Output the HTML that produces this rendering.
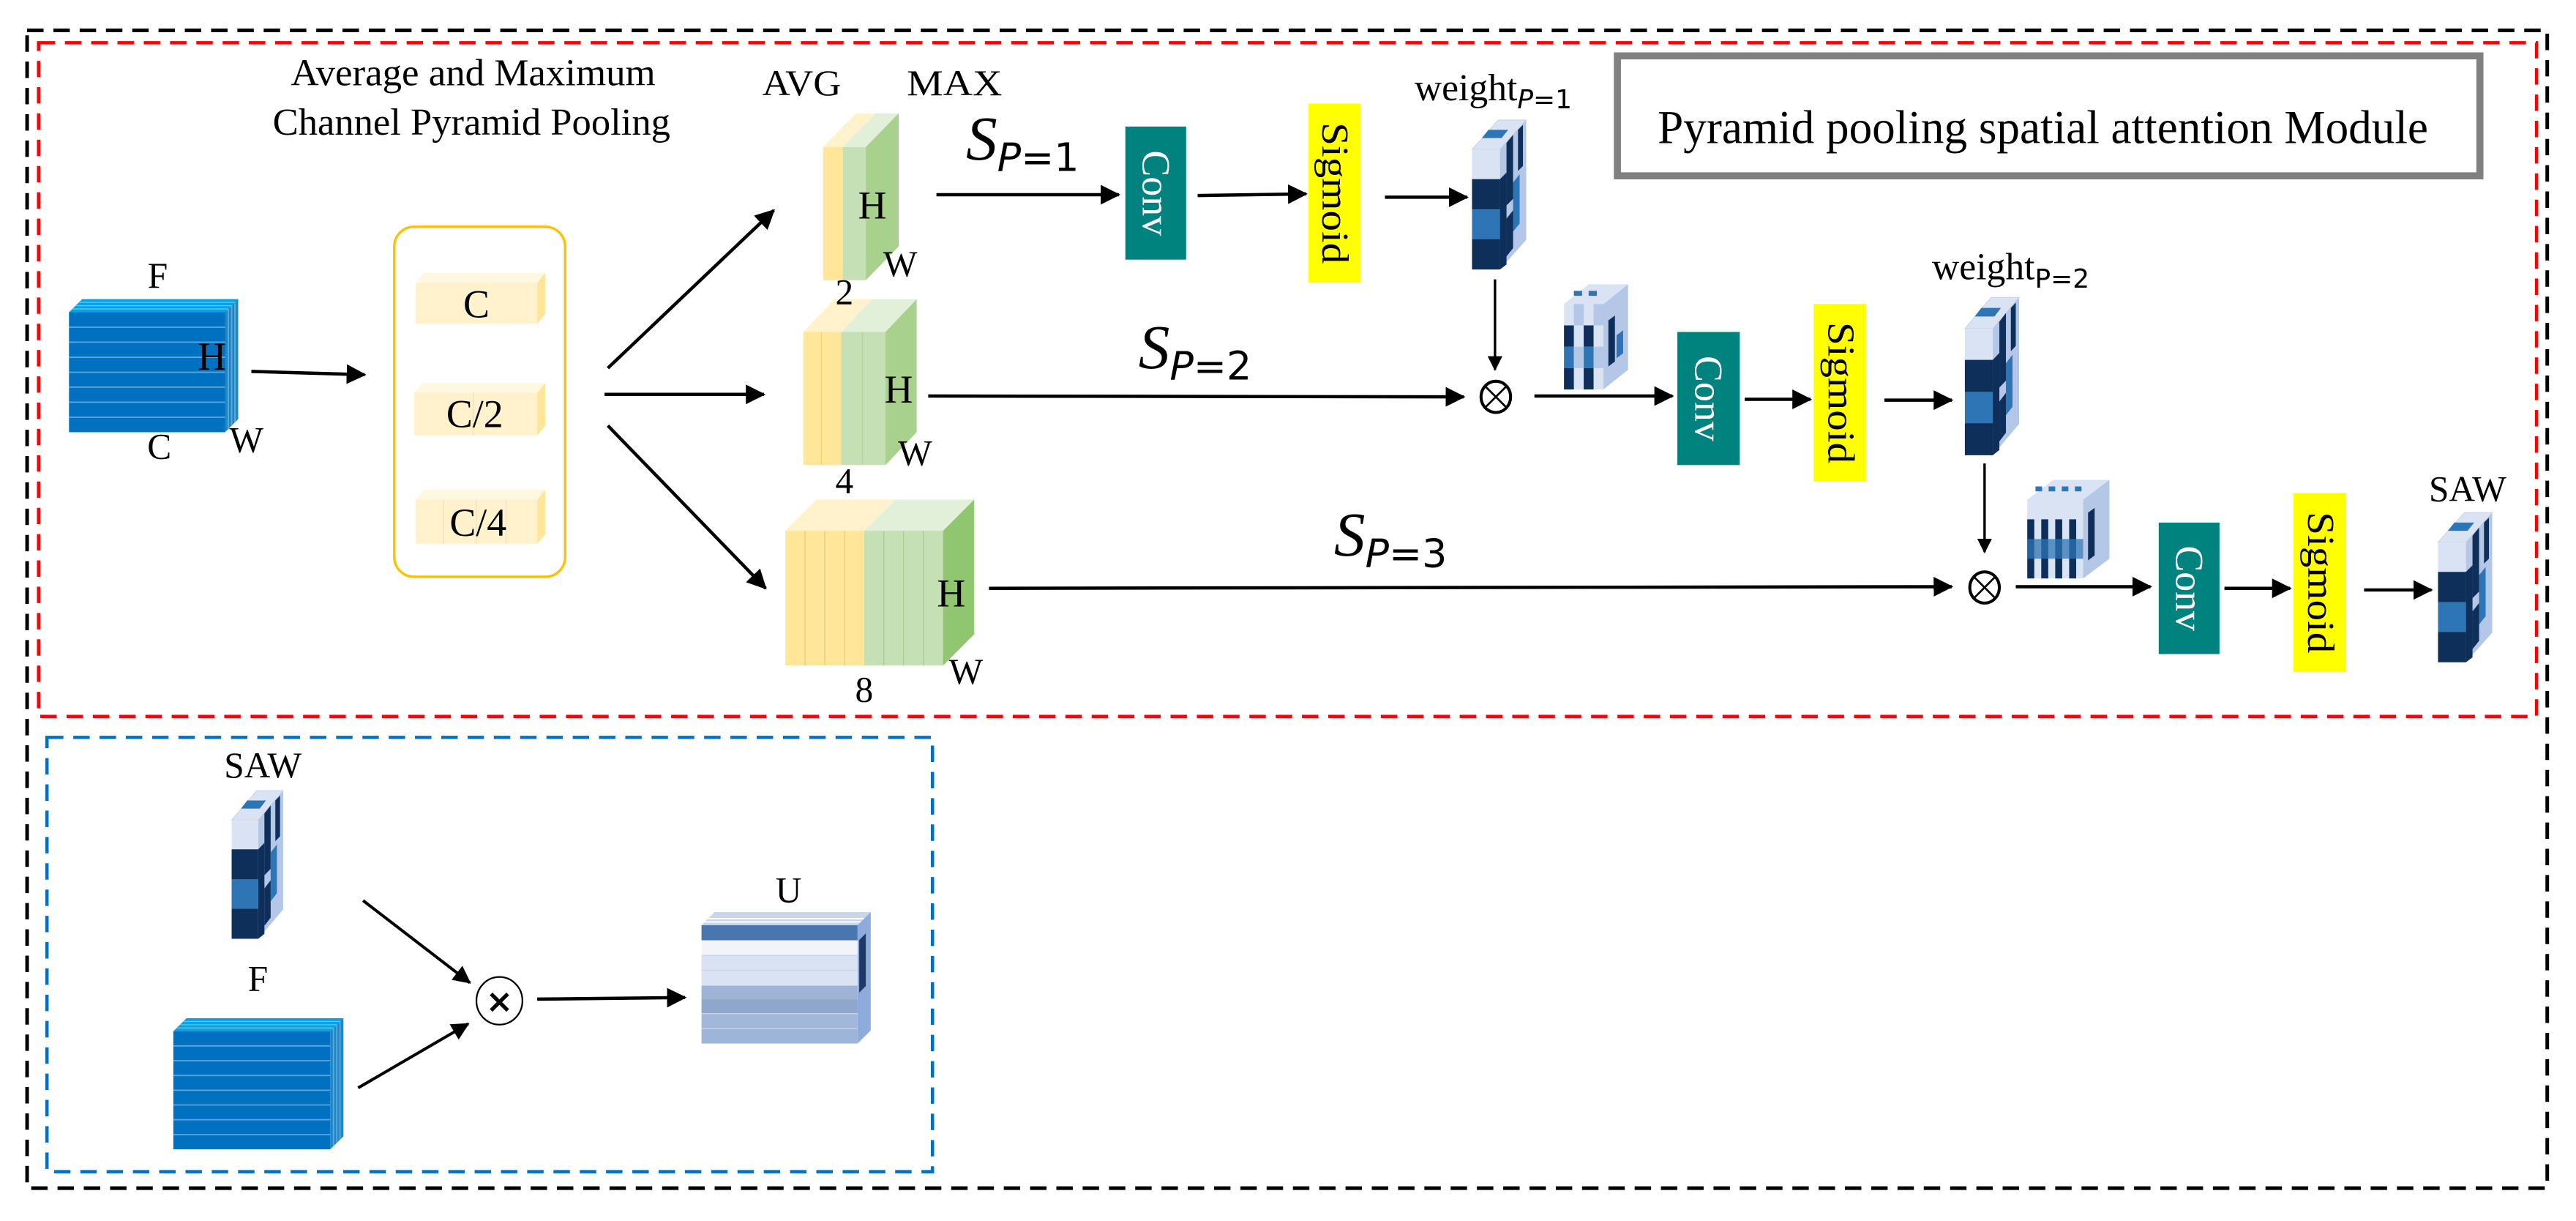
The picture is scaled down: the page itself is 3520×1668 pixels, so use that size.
<!DOCTYPE html>
<html><head><meta charset="utf-8"><style>
html,body{margin:0;padding:0;background:#fff;}
svg{display:block;}
text{font-family:"Liberation Serif",serif;fill:#000;}
</style></head><body>
<svg width="3520" height="1668" viewBox="0 0 1568 743" preserveAspectRatio="none" xmlns="http://www.w3.org/2000/svg">
<defs>
<marker id="ah" markerWidth="6" markerHeight="6" refX="5.5" refY="3" orient="auto" markerUnits="strokeWidth">
<path d="M0,0 L6,3 L0,6 z" fill="#000"/>
</marker>
<g id="wcube">
<polygon points="0,0 16,-18 33,-18 17,0" fill="#DAE3F3" stroke="#C9D5EA" stroke-width="0.5"/>
<polygon points="6,-7 10,-12 22,-12 18,-7" fill="#2E75B6"/>
<polygon points="17,0 33,-18 33,55 17,73" fill="#B4C7E7"/>
<polygon points="21,-4 25,-9 25,30 21,34" fill="#0E2F5A"/>
<polygon points="28,-12 31,-15 31,10 28,13" fill="#0E2F5A"/>
<polygon points="25,20 29,15 29,45 25,50" fill="#2E75B6"/>
<polygon points="21,42 25,37 25,60 21,65" fill="#0E2F5A"/>
<polygon points="17,18 21,14 21,70 17,73" fill="#0E2F5A"/>
<rect x="0" y="0" width="17" height="18" fill="#DAE3F3"/>
<rect x="0" y="18" width="17" height="18.5" fill="#0E2F5A"/>
<rect x="0" y="36.5" width="17" height="18" fill="#2E75B6"/>
<rect x="0" y="54.5" width="17" height="18.5" fill="#0E2F5A"/>
</g>
<g id="fcube">
<polygon points="0,0 8,-8 103,-8 95,0" fill="#00A2E8"/>
<line x1="2" y1="-2" x2="97" y2="-2" stroke="#66C8F0" stroke-width="0.6"/>
<line x1="4" y1="-4" x2="99" y2="-4" stroke="#66C8F0" stroke-width="0.6"/>
<line x1="6" y1="-6" x2="101" y2="-6" stroke="#66C8F0" stroke-width="0.6"/>
<polygon points="95,0 103,-8 103,65 95,73" fill="#1F86C4"/>
<rect x="0" y="0" width="95" height="73" fill="#0070C0"/>
<g stroke="#5FA8DC" stroke-width="0.8">
<line x1="0" y1="9.1" x2="95" y2="9.1"/><line x1="0" y1="18.2" x2="95" y2="18.2"/>
<line x1="0" y1="27.4" x2="95" y2="27.4"/><line x1="0" y1="36.5" x2="95" y2="36.5"/>
<line x1="0" y1="45.6" x2="95" y2="45.6"/><line x1="0" y1="54.7" x2="95" y2="54.7"/>
<line x1="0" y1="63.9" x2="95" y2="63.9"/>
<line x1="97" y1="-2" x2="97" y2="71"/><line x1="99" y1="-4" x2="99" y2="69"/><line x1="101" y1="-6" x2="101" y2="67"/>
</g>
</g>
</defs>

<rect x="16.5" y="18.5" width="1534" height="704.5" fill="none" stroke="#000" stroke-width="2.2" stroke-dasharray="10,6"/>
<rect x="23.5" y="26" width="1520.5" height="410" fill="none" stroke="#FF0000" stroke-width="2" stroke-dasharray="10,6"/>
<rect x="28.6" y="448.7" width="539" height="264.3" fill="none" stroke="#0070C0" stroke-width="2" stroke-dasharray="10,6"/>

<text x="288" y="52" font-size="23" text-anchor="middle" textLength="222" lengthAdjust="spacingAndGlyphs">Average and Maximum</text>
<text x="287" y="82" font-size="23" text-anchor="middle" textLength="242" lengthAdjust="spacingAndGlyphs">Channel Pyramid Pooling</text>
<text x="464" y="58" font-size="22" textLength="48" lengthAdjust="spacingAndGlyphs">AVG</text>
<text x="552" y="58" font-size="22" textLength="58" lengthAdjust="spacingAndGlyphs">MAX</text>

<rect x="984.5" y="34" width="525" height="73" fill="#fff" stroke="#808080" stroke-width="4.3"/>
<text x="1009" y="87" font-size="29" textLength="469" lengthAdjust="spacingAndGlyphs">Pyramid pooling spatial attention Module</text>

<use href="#fcube" transform="translate(42,190)"/>
<text x="96" y="175" font-size="22" text-anchor="middle">F</text>
<text x="129" y="225" font-size="24" text-anchor="middle">H</text>
<text x="97" y="279" font-size="22" text-anchor="middle">C</text>
<text x="150" y="275" font-size="22" text-anchor="middle">W</text>

<line x1="153" y1="226" x2="222" y2="228" stroke="#000" stroke-width="2" marker-end="url(#ah)"/>

<rect x="240" y="138" width="104" height="213" rx="12" fill="#fff" stroke="#FFC000" stroke-width="1.5"/>
<g>
<polygon points="253,172 258,166 332,166 327,172" fill="#FFF8E1"/>
<polygon points="327,172 332,166 332,191 327,197" fill="#FFE699"/>
<rect x="253" y="172" width="74" height="25" fill="#FFF2CC"/>
<text x="290" y="193" font-size="24" text-anchor="middle">C</text>
<polygon points="252,239 257,233 332,233 327,239" fill="#FFF8E1"/>
<polygon points="327,239 332,233 332,259 327,265" fill="#FFE699"/>
<rect x="252" y="239" width="75" height="26" fill="#FFF2CC"/>
<line x1="288" y1="239" x2="288" y2="265" stroke="#F2E2B5" stroke-width="0.6"/>
<text x="289" y="260" font-size="24" text-anchor="middle">C/2</text>
<polygon points="253,304 258,298 332,298 327,304" fill="#FFF8E1"/>
<polygon points="327,304 332,298 332,325 327,331" fill="#FFE699"/>
<rect x="253" y="304" width="74" height="27" fill="#FFF2CC"/>
<line x1="270" y1="304" x2="270" y2="331" stroke="#F2E2B5" stroke-width="0.6"/>
<line x1="290" y1="304" x2="290" y2="331" stroke="#F2E2B5" stroke-width="0.6"/>
<line x1="308" y1="304" x2="308" y2="331" stroke="#F2E2B5" stroke-width="0.6"/>
<text x="291" y="326" font-size="24" text-anchor="middle">C/4</text>
</g>

<line x1="370" y1="224" x2="471" y2="128" stroke="#000" stroke-width="2" marker-end="url(#ah)"/>
<line x1="368" y1="240" x2="465" y2="240" stroke="#000" stroke-width="2" marker-end="url(#ah)"/>
<line x1="370" y1="259" x2="466" y2="358" stroke="#000" stroke-width="2" marker-end="url(#ah)"/>

<!-- pyramid block 1 -->
<polygon points="501,89.5 521,69 533,69 513,89.5" fill="#FFF2CC"/>
<polygon points="513,89.5 533,69 547,69 527,89.5" fill="#E2F0D9"/>
<polygon points="527,89.5 547,69 547,150 527,170.5" fill="#A9D18E"/>
<rect x="501" y="89.5" width="12" height="81" fill="#FFE699"/>
<rect x="513" y="89.5" width="14" height="81" fill="#C5E0B4"/>
<text x="531" y="133" font-size="24" text-anchor="middle">H</text>
<text x="548" y="168" font-size="22" text-anchor="middle">W</text>

<!-- pyramid block 2 -->
<polygon points="489,202 508,182 531,182 512,202" fill="#FFF2CC"/>
<polygon points="512,202 531,182 558,182 539,202" fill="#E2F0D9"/>
<polygon points="539,202 558,182 558,263 539,283" fill="#A9D18E"/>
<rect x="489" y="202" width="23" height="81" fill="#FFE699"/>
<rect x="512" y="202" width="27" height="81" fill="#C5E0B4"/>
<line x1="500" y1="202" x2="500" y2="283" stroke="#F0D27A" stroke-width="0.6"/>
<line x1="525" y1="202" x2="525" y2="283" stroke="#B3D49F" stroke-width="0.6"/>
<text x="547" y="245" font-size="24" text-anchor="middle">H</text>
<text x="557" y="283" font-size="22" text-anchor="middle">W</text>
<text x="514" y="300" font-size="22" text-anchor="middle">4</text>
<text x="514" y="185" font-size="22" text-anchor="middle">2</text>

<!-- pyramid block 3 -->
<polygon points="478,323 497,304 545,304 526,323" fill="#FFF2CC"/>
<polygon points="526,323 545,304 593,304 574,323" fill="#E2F0D9"/>
<polygon points="574,323 593,304 593,386 574,405" fill="#8FC66F"/>
<rect x="478" y="323" width="48" height="82" fill="#FFE699"/>
<rect x="526" y="323" width="48" height="82" fill="#C5E0B4"/>
<g stroke="#EACB78" stroke-width="0.6"><line x1="490" y1="323" x2="490" y2="405"/><line x1="502" y1="323" x2="502" y2="405"/><line x1="514" y1="323" x2="514" y2="405"/></g>
<g stroke="#A8CC92" stroke-width="0.6"><line x1="538" y1="323" x2="538" y2="405"/><line x1="550" y1="323" x2="550" y2="405"/><line x1="562" y1="323" x2="562" y2="405"/></g>
<text x="579" y="369" font-size="24" text-anchor="middle">H</text>
<text x="588" y="416" font-size="22" text-anchor="middle">W</text>
<text x="526" y="427" font-size="22" text-anchor="middle">8</text>

<text x="588" y="97" font-size="38" font-style="italic">S<tspan font-size="24" dy="7" font-family="DejaVu Sans, sans-serif">P</tspan><tspan font-size="24" font-style="normal" font-family="DejaVu Sans, sans-serif">=1</tspan></text>
<text x="693" y="224" font-size="38" font-style="italic">S<tspan font-size="24" dy="7" font-family="DejaVu Sans, sans-serif">P</tspan><tspan font-size="24" font-style="normal" font-family="DejaVu Sans, sans-serif">=2</tspan></text>
<text x="812" y="338" font-size="38" font-style="italic">S<tspan font-size="24" dy="7" font-family="DejaVu Sans, sans-serif">P</tspan><tspan font-size="24" font-style="normal" font-family="DejaVu Sans, sans-serif">=3</tspan></text>

<!-- row 1 -->
<line x1="570" y1="118.5" x2="681" y2="118.5" stroke="#000" stroke-width="2" marker-end="url(#ah)"/>
<rect x="685" y="77" width="37" height="81" fill="#00827F"/>
<text transform="translate(703.5,117.5) rotate(90)" font-size="24" text-anchor="middle" dy="8" style="fill:#fff">Conv</text>
<line x1="729" y1="119" x2="795" y2="118" stroke="#000" stroke-width="2" marker-end="url(#ah)"/>
<rect x="796.5" y="63" width="31.5" height="109" fill="#FFFF00"/>
<text transform="translate(812,117.5) rotate(90)" font-size="23" text-anchor="middle" dy="7" textLength="86" lengthAdjust="spacingAndGlyphs">Sigmoid</text>
<line x1="843" y1="120" x2="893" y2="120" stroke="#000" stroke-width="2" marker-end="url(#ah)"/>
<use href="#wcube" transform="translate(896,91)"/>
<text x="861" y="61" font-size="23">weight<tspan font-size="16" dy="5" font-style="italic" font-family="DejaVu Sans, sans-serif">P</tspan><tspan font-size="16" font-family="DejaVu Sans, sans-serif">=1</tspan></text>
<line x1="910" y1="170" x2="910" y2="225" stroke="#000" stroke-width="1.5" marker-end="url(#ah)"/>

<!-- row 2 -->
<line x1="565" y1="241" x2="891" y2="241.5" stroke="#000" stroke-width="2" marker-end="url(#ah)"/>
<ellipse cx="910.5" cy="241.5" rx="9" ry="9.5" fill="#fff" stroke="#000" stroke-width="1.8"/>
<line x1="904.5" y1="235.5" x2="916.5" y2="247.5" stroke="#000" stroke-width="1.2"/>
<line x1="916.5" y1="235.5" x2="904.5" y2="247.5" stroke="#000" stroke-width="1.2"/>
<g>
<polygon points="952,185 967,173 991,173 976,185" fill="#DAE3F3"/>
<rect x="958" y="177" width="5" height="3" fill="#2E75B6"/><rect x="967" y="177" width="5" height="3" fill="#2E75B6"/>
<polygon points="976,185 991,173 991,225 976,237" fill="#B4C7E7"/>
<polygon points="979,195 983,192 983,220 979,223" fill="#0E2F5A"/>
<polygon points="984,204 988,201 988,215 984,218" fill="#2E75B6"/>
<rect x="952" y="185" width="24" height="52" fill="#DAE3F3"/>
<rect x="958" y="185" width="6" height="13" fill="#B4C7E7"/><rect x="970" y="185" width="6" height="13" fill="#B4C7E7"/>
<rect x="952" y="198" width="6" height="13" fill="#0E2F5A"/><rect x="964" y="198" width="6" height="13" fill="#0E2F5A"/>
<rect x="952" y="211" width="6" height="13" fill="#2E75B6"/><rect x="958" y="211" width="6" height="13" fill="#B4C7E7"/><rect x="964" y="211" width="6" height="13" fill="#2E75B6"/><rect x="970" y="211" width="6" height="13" fill="#B4C7E7"/>
<rect x="952" y="224" width="6" height="13" fill="#0E2F5A"/><rect x="964" y="224" width="6" height="13" fill="#0E2F5A"/>
</g>
<line x1="934" y1="241" x2="1018" y2="241" stroke="#000" stroke-width="2" marker-end="url(#ah)"/>
<rect x="1021" y="202" width="38" height="81" fill="#00827F"/>
<text transform="translate(1040,242.5) rotate(90)" font-size="24" text-anchor="middle" dy="8" style="fill:#fff">Conv</text>
<line x1="1062" y1="243" x2="1102" y2="243" stroke="#000" stroke-width="2" marker-end="url(#ah)"/>
<rect x="1104" y="185" width="32" height="108" fill="#FFFF00"/>
<text transform="translate(1120,239) rotate(90)" font-size="23" text-anchor="middle" dy="7" textLength="86" lengthAdjust="spacingAndGlyphs">Sigmoid</text>
<line x1="1147" y1="243.5" x2="1188" y2="243.5" stroke="#000" stroke-width="2" marker-end="url(#ah)"/>
<use href="#wcube" transform="translate(1196,200) scale(1,1.055)"/>
<text x="1176" y="170" font-size="23">weight<tspan font-size="16" dy="5" font-family="DejaVu Sans, sans-serif">P=2</tspan></text>
<line x1="1208" y1="282" x2="1208" y2="336" stroke="#000" stroke-width="1.5" marker-end="url(#ah)"/>

<!-- row 3 -->
<line x1="602" y1="358" x2="1188" y2="357" stroke="#000" stroke-width="2" marker-end="url(#ah)"/>
<ellipse cx="1208" cy="357.5" rx="9" ry="9.5" fill="#fff" stroke="#000" stroke-width="1.8"/>
<line x1="1202" y1="351.5" x2="1214" y2="363.5" stroke="#000" stroke-width="1.2"/>
<line x1="1214" y1="351.5" x2="1202" y2="363.5" stroke="#000" stroke-width="1.2"/>
<g>
<polygon points="1234,304 1250,292 1284,292 1268,304" fill="#DAE3F3"/>
<rect x="1239" y="296" width="4" height="3" fill="#2E75B6"/><rect x="1247" y="296" width="4" height="3" fill="#2E75B6"/><rect x="1255" y="296" width="4" height="3" fill="#2E75B6"/><rect x="1263" y="296" width="4" height="3" fill="#2E75B6"/>
<polygon points="1268,304 1284,292 1284,340 1268,352" fill="#B4C7E7"/>
<polygon points="1271,312 1275,309 1275,338 1271,341" fill="#0E2F5A"/>
<rect x="1234" y="304" width="34" height="48" fill="#DAE3F3"/>
<rect x="1234" y="316" width="4.25" height="36" fill="#0E2F5A"/><rect x="1242.5" y="316" width="4.25" height="36" fill="#0E2F5A"/><rect x="1251" y="316" width="4.25" height="36" fill="#0E2F5A"/><rect x="1259.5" y="316" width="4.25" height="36" fill="#0E2F5A"/>
<rect x="1234" y="328" width="34" height="12" fill="#2E75B6" opacity="0.75"/>
</g>
<line x1="1227" y1="357" x2="1309" y2="357" stroke="#000" stroke-width="2" marker-end="url(#ah)"/>
<rect x="1314" y="318" width="37" height="80" fill="#00827F"/>
<text transform="translate(1332.5,358) rotate(90)" font-size="24" text-anchor="middle" dy="8" style="fill:#fff">Conv</text>
<line x1="1354" y1="358" x2="1394" y2="358" stroke="#000" stroke-width="2" marker-end="url(#ah)"/>
<rect x="1396" y="300" width="32" height="109" fill="#FFFF00"/>
<text transform="translate(1412,354.5) rotate(90)" font-size="23" text-anchor="middle" dy="7" textLength="86" lengthAdjust="spacingAndGlyphs">Sigmoid</text>
<line x1="1439" y1="359" x2="1480" y2="359" stroke="#000" stroke-width="2" marker-end="url(#ah)"/>
<use href="#wcube" transform="translate(1484,330)"/>
<text x="1502" y="305" font-size="22" text-anchor="middle">SAW</text>

<!-- bottom -->
<text x="160" y="473" font-size="22" text-anchor="middle">SAW</text>
<use href="#wcube" transform="translate(141,499) scale(0.95,0.99)"/>
<text x="157" y="603" font-size="22" text-anchor="middle">F</text>
<use href="#fcube" transform="translate(105.5,627.5) scale(1.005,0.985)"/>
<line x1="221" y1="548" x2="286" y2="598" stroke="#000" stroke-width="1.8" marker-end="url(#ah)"/>
<line x1="218" y1="662" x2="285" y2="623" stroke="#000" stroke-width="1.8" marker-end="url(#ah)"/>
<ellipse cx="304" cy="609" rx="14" ry="14.5" fill="#fff" stroke="#000" stroke-width="1"/>
<text x="304" y="616" font-size="20" font-weight="bold" text-anchor="middle" style="font-family:'DejaVu Sans',sans-serif">×</text>
<line x1="327" y1="608" x2="417" y2="607" stroke="#000" stroke-width="2" marker-end="url(#ah)"/>
<text x="480" y="549" font-size="22" text-anchor="middle">U</text>
<g>
<polygon points="427,563 435,555 530,555 522,563" fill="#C9D6EA"/>
<line x1="429" y1="561" x2="524" y2="561" stroke="#fff" stroke-width="0.8"/>
<line x1="431" y1="559" x2="526" y2="559" stroke="#fff" stroke-width="0.8"/>
<polygon points="522,563 530,555 530,627 522,635" fill="#8FAADC"/>
<polygon points="523,572 527,568 527,600 523,604" fill="#1F3864"/>
<rect x="427" y="563" width="95" height="9.2" fill="#4A76B0"/>
<rect x="427" y="572.2" width="95" height="9.2" fill="#F2F4F8"/>
<rect x="427" y="581.4" width="95" height="9.2" fill="#D9E2F0"/>
<rect x="427" y="590.6" width="95" height="9.2" fill="#DAE3F3"/>
<rect x="427" y="599.8" width="95" height="8.2" fill="#9DB4D6"/>
<rect x="427" y="608" width="95" height="8.8" fill="#8EA7CB"/>
<rect x="427" y="616.8" width="95" height="9.2" fill="#A1B8DA"/>
<rect x="427" y="626" width="95" height="9" fill="#9DB5D9"/>
<g stroke="#C8D3E6" stroke-width="0.6"><line x1="427" y1="581.4" x2="522" y2="581.4"/><line x1="427" y1="590.6" x2="522" y2="590.6"/><line x1="427" y1="616.8" x2="522" y2="616.8"/><line x1="427" y1="626" x2="522" y2="626"/></g>
</g>
</svg>
</body></html>
